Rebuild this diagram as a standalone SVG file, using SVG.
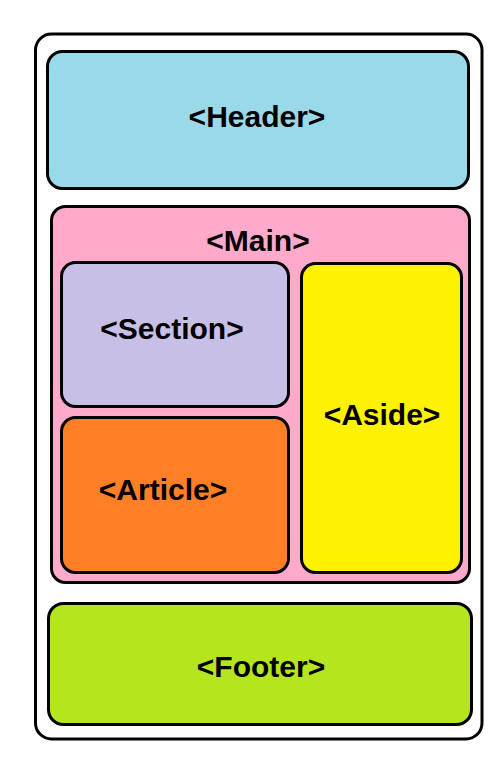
<svg xmlns="http://www.w3.org/2000/svg" width="503" height="757" viewBox="0 0 503 757">
<style>
.box{stroke:#000;stroke-width:3}
.lbl{font-family:"Liberation Sans",Arial,sans-serif;font-weight:bold;font-size:30px;fill:#000;text-anchor:middle}
</style>
<rect width="503" height="757" fill="#fff"/>
<g id="page"><rect class="box" x="35.5" y="34" width="446.5" height="705" rx="16" fill="#fff"/></g>
<g id="header"><rect class="box" x="47.5" y="51.5" width="421" height="137" rx="15" fill="#99D9EA"/><text class="lbl" x="257" y="127">&lt;Header&gt;</text></g>
<g id="main"><rect class="box" x="51.5" y="206.5" width="418" height="376" rx="14" fill="#FFAACA"/><text class="lbl" x="258" y="251">&lt;Main&gt;</text></g>
<g id="section"><rect class="box" x="61.5" y="262.5" width="227" height="144" rx="14" fill="#C8BFE7"/><text class="lbl" x="172" y="339">&lt;Section&gt;</text></g>
<g id="article"><rect class="box" x="61.5" y="417.5" width="227" height="155" rx="14" fill="#FF7F27"/><text class="lbl" x="163" y="500">&lt;Article&gt;</text></g>
<g id="aside"><rect class="box" x="301.5" y="263.5" width="160" height="309" rx="14" fill="#FFF200"/><text class="lbl" x="382" y="425">&lt;Aside&gt;</text></g>
<g id="footer"><rect class="box" x="48.5" y="603.5" width="423" height="121" rx="15" fill="#B5E61D"/><text class="lbl" x="261" y="677">&lt;Footer&gt;</text></g>
<g id="connectors"/>
</svg>
